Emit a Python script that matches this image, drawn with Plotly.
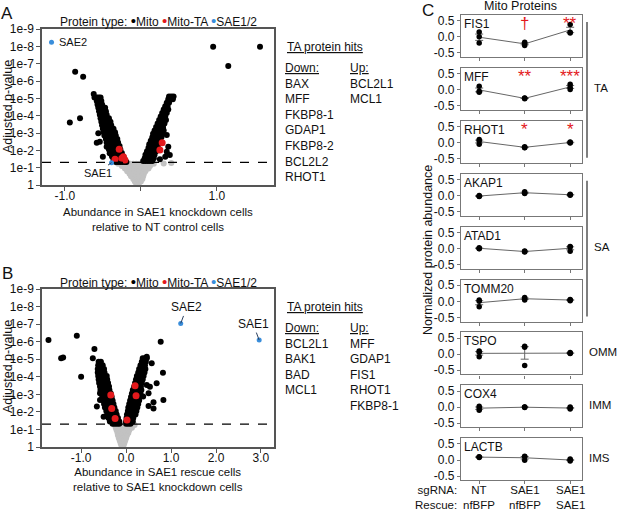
import plotly.graph_objects as go
import statistics

W, H = 617, 510
FONT = "Arial, Liberation Sans, sans-serif"

# ---------------- panel A data (x = log2 ratio, y = -log10 adjusted p) ----------------
# not significant (gray), rows of equal y
A_gray_x = [-0.06, -0.03,
            -0.08, -0.05, -0.02, 0.0,
            -0.10, -0.07, -0.04, -0.01, 0.02,
            -0.13, -0.10, -0.07, -0.04, 0.0, 0.03,
            -0.15, -0.12, -0.09, -0.05, -0.02, 0.01, 0.04,
            -0.18, -0.15, -0.11, -0.07, -0.03, 0.0, 0.03, 0.06,
            -0.21, -0.18, -0.14, -0.10, -0.06, -0.02, 0.02, 0.04, 0.07, 0.10,
            -0.25, -0.21, -0.17, -0.13, -0.09, -0.05, -0.01, 0.03, 0.06, 0.09, 0.12,
            -0.30, -0.26, -0.22, -0.18, -0.14, -0.10, -0.06, -0.02, 0.02, 0.07, 0.10, 0.13, 0.17,
            0.40, 0.30]
A_gray_y = [0.05, 0.05,
            0.2, 0.2, 0.2, 0.2,
            0.35, 0.35, 0.35, 0.35, 0.35,
            0.5, 0.5, 0.5, 0.5, 0.5, 0.5,
            0.65, 0.65, 0.65, 0.65, 0.65, 0.65, 0.65,
            0.8, 0.8, 0.8, 0.8, 0.8, 0.8, 0.8, 0.8,
            0.95, 0.95, 0.95, 0.95, 0.95, 0.95, 0.95, 0.95, 0.95, 0.95,
            1.1, 1.1, 1.1, 1.1, 1.1, 1.1, 1.1, 1.1, 1.1, 1.1, 1.1,
            1.22, 1.22, 1.22, 1.22, 1.22, 1.22, 1.22, 1.22, 1.22, 1.22, 1.22, 1.22, 1.22,
            1.27, 1.24]

# significant mitochondrial proteins (black): outliers, left arm, right arm
A_mito_x = [0.95, 1.566, 1.149, -0.864, -0.759, -0.934, -0.80, -0.56, -0.58, -0.47,
            -0.54, -0.45, -0.50, -0.41, 0.34, 0.36, 0.34, 0.38, 0.25, 0.32, 0.29,
            -0.62,
            -0.61, -0.58, -0.555, -0.53,
            -0.58, -0.55, -0.52,
            -0.57, -0.54, -0.51,
            -0.56, -0.53, -0.50, -0.47,
            -0.55, -0.52, -0.49, -0.46,
            -0.54, -0.51, -0.48, -0.45,
            -0.53, -0.50, -0.47, -0.44, -0.42,
            -0.52, -0.49, -0.46, -0.43, -0.40,
            -0.51, -0.48, -0.45, -0.42, -0.39,
            -0.50, -0.47, -0.44, -0.41, -0.38, -0.36,
            -0.49, -0.46, -0.43, -0.40, -0.37, -0.34,
            -0.48, -0.45, -0.42, -0.39, -0.36, -0.33,
            -0.46, -0.43, -0.40, -0.37, -0.34, -0.31,
            -0.45, -0.42, -0.39, -0.36, -0.33, -0.30,
            -0.43, -0.40, -0.37, -0.34, -0.31, -0.28,
            -0.42, -0.39, -0.36, -0.33, -0.30, -0.27,
            -0.40, -0.37, -0.34, -0.31, -0.28, -0.25,
            -0.38, -0.35, -0.32, -0.29, -0.26, -0.23,
            -0.36, -0.33, -0.30, -0.27, -0.24, -0.21,
            -0.33, -0.30, -0.27, -0.24, -0.21, -0.19,
            0.37, 0.40, 0.43,
            0.36, 0.39, 0.42,
            0.34, 0.37,
            0.32, 0.35,
            0.30, 0.33, 0.36,
            0.28, 0.31, 0.34,
            0.26, 0.29, 0.32,
            0.24, 0.27, 0.30, 0.33,
            0.22, 0.25, 0.28, 0.31,
            0.20, 0.23, 0.26, 0.29,
            0.18, 0.21, 0.24, 0.27, 0.30,
            0.16, 0.19, 0.22, 0.25, 0.28,
            0.15, 0.18, 0.21, 0.24, 0.27,
            0.13, 0.16, 0.19, 0.22, 0.25,
            0.11, 0.14, 0.17, 0.20, 0.23,
            0.10, 0.13, 0.16, 0.19, 0.22,
            0.08, 0.11, 0.14, 0.17, 0.20,
            0.06, 0.09, 0.12, 0.15, 0.18,
            0.05, 0.08, 0.11, 0.14, 0.17,
            0.03, 0.06, 0.09, 0.12, 0.15]
A_mito_y = [7.98, 7.98, 6.87, 6.54, 6.25, 3.6, 3.85, 2.98, 2.44, 3.36,
            2.5, 2.21, 1.63, 1.83, 2.89, 2.21, 1.92, 1.73, 1.48, 1.63, 3.27,
            5.25,
            5.05, 5.05, 5.05, 5.05,
            4.85, 4.85, 4.85,
            4.65, 4.65, 4.65,
            4.45, 4.45, 4.45, 4.45,
            4.25, 4.25, 4.25, 4.25,
            4.05, 4.05, 4.05, 4.05,
            3.85, 3.85, 3.85, 3.85, 3.85,
            3.65, 3.65, 3.65, 3.65, 3.65,
            3.45, 3.45, 3.45, 3.45, 3.45,
            3.25, 3.25, 3.25, 3.25, 3.25, 3.25,
            3.05, 3.05, 3.05, 3.05, 3.05, 3.05,
            2.85, 2.85, 2.85, 2.85, 2.85, 2.85,
            2.65, 2.65, 2.65, 2.65, 2.65, 2.65,
            2.45, 2.45, 2.45, 2.45, 2.45, 2.45,
            2.25, 2.25, 2.25, 2.25, 2.25, 2.25,
            2.05, 2.05, 2.05, 2.05, 2.05, 2.05,
            1.85, 1.85, 1.85, 1.85, 1.85, 1.85,
            1.65, 1.65, 1.65, 1.65, 1.65, 1.65,
            1.45, 1.45, 1.45, 1.45, 1.45, 1.45,
            1.32, 1.32, 1.32, 1.32, 1.32, 1.32,
            5.1, 5.1, 5.1,
            4.95, 4.95, 4.95,
            4.75, 4.75,
            4.55, 4.55,
            4.35, 4.35, 4.35,
            4.15, 4.15, 4.15,
            3.95, 3.95, 3.95,
            3.75, 3.75, 3.75, 3.75,
            3.55, 3.55, 3.55, 3.55,
            3.35, 3.35, 3.35, 3.35,
            3.15, 3.15, 3.15, 3.15, 3.15,
            2.95, 2.95, 2.95, 2.95, 2.95,
            2.75, 2.75, 2.75, 2.75, 2.75,
            2.55, 2.55, 2.55, 2.55, 2.55,
            2.35, 2.35, 2.35, 2.35, 2.35,
            2.15, 2.15, 2.15, 2.15, 2.15,
            1.95, 1.95, 1.95, 1.95, 1.95,
            1.75, 1.75, 1.75, 1.75, 1.75,
            1.55, 1.55, 1.55, 1.55, 1.55,
            1.38, 1.38, 1.38, 1.38, 1.38]

A_ta_x = [-0.285, -0.23, -0.21, -0.34, -0.25, 0.28, 0.25]
A_ta_y = [2.06, 1.63, 1.44, 1.48, 1.55, 2.44, 2.02]

A_sae_x = [-1.175, -0.386]
A_sae_y = [8.23, 1.29]
A_sae_names = ["SAE2", "SAE1"]

A_hits_down = ["BAX", "MFF", "FKBP8-1", "GDAP1", "FKBP8-2", "BCL2L2", "RHOT1"]
A_hits_up = ["BCL2L1", "MCL1"]

# ---------------- panel B data ----------------
B_gray_x = [-0.10, -0.06,
            -0.12, -0.08, -0.04,
            -0.14, -0.10, -0.06, -0.02,
            -0.16, -0.12, -0.08, -0.04, 0.0,
            -0.18, -0.14, -0.10, -0.06, -0.02, 0.02,
            -0.19, -0.15, -0.11, -0.07, -0.03, 0.01, 0.05,
            -0.21, -0.17, -0.13, -0.09, -0.05, -0.01, 0.03, 0.07,
            -0.23, -0.19, -0.15, -0.11, -0.07, -0.03, 0.01, 0.05, 0.09, 0.13,
            -0.25, -0.21, -0.17, -0.13, -0.09, -0.05, -0.01, 0.02, 0.07, 0.11, 0.15, 0.19]
B_gray_y = [0.05, 0.05,
            0.2, 0.2, 0.2,
            0.35, 0.35, 0.35, 0.35,
            0.5, 0.5, 0.5, 0.5, 0.5,
            0.65, 0.65, 0.65, 0.65, 0.65, 0.65,
            0.8, 0.8, 0.8, 0.8, 0.8, 0.8, 0.8,
            0.95, 0.95, 0.95, 0.95, 0.95, 0.95, 0.95, 0.95,
            1.1, 1.1, 1.1, 1.1, 1.1, 1.1, 1.1, 1.1, 1.1, 1.1,
            1.25, 1.25, 1.25, 1.25, 1.25, 1.25, 1.25, 1.25, 1.25, 1.25, 1.25, 1.25]

B_mito_x = [-1.726, -1.096, -1.444, -1.40, -0.704, -0.74, -1.0, -0.5, -0.58, -0.65, -0.58,
            0.77, 0.57, 0.82, 0.46, 0.46, 0.50, 0.83, 0.61, 0.61, 0.53, 0.68, 0.38, 0.50,
            -0.61, -0.56,
            -0.62, -0.57, -0.52,
            -0.63, -0.58, -0.53, -0.49,
            -0.63, -0.58, -0.53, -0.48,
            -0.62, -0.57, -0.52, -0.47, -0.43,
            -0.61, -0.56, -0.51, -0.46, -0.42,
            -0.60, -0.55, -0.50, -0.45, -0.40,
            -0.58, -0.53, -0.48, -0.43, -0.38,
            -0.57, -0.52, -0.47, -0.42, -0.37,
            -0.55, -0.50, -0.45, -0.40, -0.34,
            -0.53, -0.48, -0.43, -0.38, -0.32,
            -0.51, -0.46, -0.41, -0.36, -0.30,
            -0.49, -0.44, -0.39, -0.34, -0.28,
            -0.47, -0.42, -0.37, -0.32, -0.26,
            -0.44, -0.39, -0.34, -0.29, -0.23,
            -0.42, -0.37, -0.32, -0.27, -0.21,
            -0.39, -0.34, -0.29, -0.24, -0.18,
            -0.36, -0.31, -0.26, -0.21, -0.15,
            -0.30, -0.25, -0.20, -0.15,
            0.37, 0.42, 0.46,
            0.35, 0.40, 0.44,
            0.32, 0.37, 0.42,
            0.29, 0.34, 0.39, 0.43,
            0.27, 0.32, 0.37, 0.41,
            0.24, 0.29, 0.34, 0.39,
            0.22, 0.27, 0.32, 0.37,
            0.20, 0.25, 0.30, 0.35,
            0.18, 0.23, 0.28, 0.33,
            0.15, 0.20, 0.25, 0.30, 0.34,
            0.13, 0.18, 0.23, 0.28, 0.32,
            0.11, 0.16, 0.21, 0.26, 0.30,
            0.09, 0.14, 0.19, 0.24, 0.29,
            0.07, 0.12, 0.17, 0.22, 0.27,
            0.05, 0.10, 0.15, 0.20, 0.25,
            0.04, 0.09, 0.14, 0.19, 0.23,
            0.02, 0.07, 0.12, 0.17, 0.21,
            0.01, 0.06, 0.11, 0.16,
            0.0, 0.05, 0.10, 0.15,
            0.0, 0.05, 0.10]
B_mito_y = [6.09, 6.34, 5.05, 5.1, 5.58, 5.05, 4.0, 1.73, 2.68, 2.3, 3.06,
            6.0, 4.77, 4.23, 5.14, 3.53, 3.06, 2.68, 2.55, 2.2, 3.43, 3.63, 2.87, 2.33,
            4.85, 4.85,
            4.65, 4.65, 4.65,
            4.45, 4.45, 4.45, 4.45,
            4.25, 4.25, 4.25, 4.25,
            4.05, 4.05, 4.05, 4.05, 4.05,
            3.85, 3.85, 3.85, 3.85, 3.85,
            3.65, 3.65, 3.65, 3.65, 3.65,
            3.45, 3.45, 3.45, 3.45, 3.45,
            3.25, 3.25, 3.25, 3.25, 3.25,
            3.05, 3.05, 3.05, 3.05, 3.05,
            2.85, 2.85, 2.85, 2.85, 2.85,
            2.65, 2.65, 2.65, 2.65, 2.65,
            2.45, 2.45, 2.45, 2.45, 2.45,
            2.25, 2.25, 2.25, 2.25, 2.25,
            2.05, 2.05, 2.05, 2.05, 2.05,
            1.85, 1.85, 1.85, 1.85, 1.85,
            1.65, 1.65, 1.65, 1.65, 1.65,
            1.45, 1.45, 1.45, 1.45, 1.45,
            1.32, 1.32, 1.32, 1.32,
            5.05, 5.05, 5.05,
            4.85, 4.85, 4.85,
            4.65, 4.65, 4.65,
            4.45, 4.45, 4.45, 4.45,
            4.25, 4.25, 4.25, 4.25,
            4.05, 4.05, 4.05, 4.05,
            3.85, 3.85, 3.85, 3.85,
            3.65, 3.65, 3.65, 3.65,
            3.45, 3.45, 3.45, 3.45,
            3.25, 3.25, 3.25, 3.25, 3.25,
            3.05, 3.05, 3.05, 3.05, 3.05,
            2.85, 2.85, 2.85, 2.85, 2.85,
            2.65, 2.65, 2.65, 2.65, 2.65,
            2.45, 2.45, 2.45, 2.45, 2.45,
            2.25, 2.25, 2.25, 2.25, 2.25,
            2.05, 2.05, 2.05, 2.05, 2.05,
            1.85, 1.85, 1.85, 1.85, 1.85,
            1.65, 1.65, 1.65, 1.65,
            1.45, 1.45, 1.45, 1.45,
            1.32, 1.32, 1.32]

B_ta_x = [-0.34, -0.32, -0.244, 0.02, 0.2, 0.222]
B_ta_y = [2.96, 2.2, 1.63, 1.54, 3.49, 2.92]

B_sae_x = [1.215, 2.96]
B_sae_y = [7.04, 6.09]
B_sae_names = ["SAE2", "SAE1"]

B_hits_down = ["BCL2L1", "BAK1", "BAD", "MCL1"]
B_hits_up = ["MFF", "GDAP1", "FIS1", "RHOT1", "FKBP8-1"]

# ---------------- panel C data (three replicates per condition) ----------------
C_conditions = ["NT<br>nfBFP", "SAE1<br>nfBFP", "SAE1<br>SAE1"]
C_proteins = ["FIS1", "MFF", "RHOT1", "AKAP1", "ATAD1", "TOMM20", "TSPO", "COX4", "LACTB"]
C_nt = [[0.15, 0.0, -0.19], [0.11, -0.05, -0.08], [0.1, 0.05, -0.05], [0.0, -0.02, -0.03],
        [0.02, 0.0, -0.01], [0.04, 0.0, -0.17], [0.1, 0.06, -0.08], [0.03, -0.03, -0.1],
        [0.1, 0.09, 0.08]]
C_kd = [[-0.17, -0.22, -0.27], [-0.26, -0.27, -0.28], [-0.13, -0.15, -0.16], [0.12, 0.08, 0.06],
        [-0.08, -0.1, -0.11], [0.12, 0.08, 0.04], [0.25, 0.22, -0.35], [0.0, 0.0, -0.01],
        [0.12, 0.1, -0.01]]
C_rescue = [[0.38, 0.14, 0.12], [0.17, 0.08, 0.01], [0.02, 0.0, -0.01], [0.04, 0.02, 0.01],
            [0.06, 0.04, -0.09], [0.06, 0.04, 0.02], [0.05, 0.03, 0.02], [0.0, -0.03, -0.06],
            [0.03, 0.0, -0.03]]
C_sig = [["", "†", "**"], ["", "**", "***"], ["", "*", "*"], ["", "", ""], ["", "", ""],
         ["", "", ""], ["", "", ""], ["", "", ""], ["", "", ""]]
C_groups = [("TA", 0, 2), ("SA", 3, 5), ("OMM", 6, 6), ("IMM", 7, 7), ("IMS", 8, 8)]

GRAY = "#c2c2c2"
RED = "#e3191c"
BLUE = "#3a8edb"


def px(x):
    return x / W


def py(y):
    return 1 - y / H


fig = go.Figure()
annotations = []
shapes = []


def volcano(n, gx, gy, mx, my, tx, ty, sx, sy):
    ax = "x" if n == 1 else "x%d" % n
    ay = "y" if n == 1 else "y%d" % n
    fig.add_trace(go.Scatter(x=gx, y=gy, mode="markers", xaxis=ax, yaxis=ay,
                             marker=dict(color=GRAY, size=6), showlegend=False))
    fig.add_trace(go.Scatter(x=mx, y=my, mode="markers", xaxis=ax, yaxis=ay,
                             marker=dict(color="black", size=6), showlegend=False))
    fig.add_trace(go.Scatter(x=tx, y=ty, mode="markers", xaxis=ax, yaxis=ay,
                             marker=dict(color=RED, size=7), showlegend=False))
    fig.add_trace(go.Scatter(x=sx, y=sy, mode="markers", xaxis=ax, yaxis=ay,
                             marker=dict(color=BLUE, size=5), showlegend=False))
    shapes.append(dict(type="line", xref=ax + " domain", yref=ay, x0=0, x1=1, y0=1.3, y1=1.3,
                       line=dict(color="black", width=1.3, dash="dash")))


volcano(1, A_gray_x, A_gray_y, A_mito_x, A_mito_y, A_ta_x, A_ta_y, A_sae_x, A_sae_y)
volcano(2, B_gray_x, B_gray_y, B_mito_x, B_mito_y, B_ta_x, B_ta_y, B_sae_x, B_sae_y)

ylab = ["1"] + ["1e-%d" % i for i in range(1, 10)]
vaxis_y = dict(range=[0, 9], tickvals=list(range(10)), ticktext=ylab, showline=True, mirror=True,
               linecolor="#555", linewidth=1.5, ticks="outside", ticklen=4, tickcolor="#555",
               showgrid=False, zeroline=False, automargin=False,
               tickfont=dict(size=12, color="#111"))
fig.update_layout(
    xaxis=dict(domain=[px(42), px(274)], anchor="y", range=[-1.30, 1.75],
               tickvals=[-1, 0, 1], ticktext=["-1.0", "", "1.0"]),
    yaxis=dict(domain=[py(185), py(29)], anchor="x", **vaxis_y),
    xaxis2=dict(domain=[px(42), px(274)], anchor="y2", range=[-1.87, 3.29],
                tickvals=[-1, 0, 1, 2, 3], ticktext=["-1.0", "0.0", "1.0", "2.0", "3.0"]),
    yaxis2=dict(domain=[py(447), py(289)], anchor="x2", **vaxis_y),
)
for k in ["xaxis", "xaxis2"]:
    fig.layout[k].update(showline=True, mirror=True, linecolor="#555", linewidth=1.5,
                         ticks="outside", ticklen=4, tickcolor="#555", showgrid=False,
                         zeroline=False, automargin=False, ticklabelstandoff=-5,
                         tickfont=dict(size=12, color="#111"))

# labels for SAE points
annotations += [
    dict(x=A_sae_x[0], y=A_sae_y[0], xref="x", yref="y", text=A_sae_names[0], showarrow=False,
         xanchor="left", xshift=5, font=dict(size=11)),
    dict(x=A_sae_x[1], y=A_sae_y[1], xref="x", yref="y", text=A_sae_names[1], showarrow=True,
         arrowhead=0, arrowwidth=1, ax=-14, ay=10, font=dict(size=11)),
    dict(x=B_sae_x[0], y=B_sae_y[0], xref="x2", yref="y2", text=B_sae_names[0], showarrow=True,
         arrowhead=0, arrowwidth=1, ax=6, ay=-16, font=dict(size=12)),
    dict(x=B_sae_x[1], y=B_sae_y[1], xref="x2", yref="y2", text=B_sae_names[1], showarrow=True,
         arrowhead=0, arrowwidth=1, ax=-6, ay=-16, font=dict(size=12)),
]

dot = "<span style='color:%s;font-size:15px'>•</span>"
legend_txt = ("Protein type: " + dot % "black" + "Mito " + dot % RED + "Mito-TA "
              + dot % BLUE + "SAE1/2")


def panel_text(top, title1, title2, down, up, letter):
    out = []
    out.append(dict(x=px(7), y=py(top - 16), text=letter, font=dict(size=17)))
    out.append(dict(x=px(159), y=py(top - 8), text=legend_txt, font=dict(size=12)))
    out.append(dict(x=px(8), y=py(top + 78), text="Adjusted p-value", textangle=-90,
                    font=dict(size=12.5)))
    out.append(dict(x=px(158), y=py(top + 190), text=title1 + "<br>" + title2,
                    font=dict(size=11.5)))
    out.append(dict(x=px(285), y=py(top + 18), text="<u>TA protein hits</u>", xanchor="left",
                    font=dict(size=12)))
    out.append(dict(x=px(283), y=py(top + 30), text="<u>Down:</u><br>" + "<br>".join(down),
                    xanchor="left", yanchor="top", align="left", font=dict(size=12)))
    out.append(dict(x=px(348), y=py(top + 30), text="<u>Up:</u><br>" + "<br>".join(up),
                    xanchor="left", yanchor="top", align="left", font=dict(size=12)))
    return out


annotations += panel_text(29, "Abundance in SAE1 knockdown cells", "relative to NT control cells",
                          A_hits_down, A_hits_up, "A")
annotations += panel_text(289, "Abundance in SAE1 rescue cells", "relative to SAE1 knockdown cells",
                          B_hits_down, B_hits_up, "B")

# ---------------- panel C ----------------
C_left, C_right = 461, 582
C_tops = [15 + 52.9 * i for i in range(9)]
C_h = 42
for i, name in enumerate(C_proteins):
    n = i + 3
    xa, ya = "x%d" % n, "y%d" % n
    reps = [C_nt[i], C_kd[i], C_rescue[i]]
    means = [statistics.mean(r) for r in reps]
    sems = [statistics.stdev(r) / len(r) ** 0.5 for r in reps]
    fig.add_trace(go.Scatter(x=[0, 1, 2], y=means, mode="lines", xaxis=xa, yaxis=ya,
                             line=dict(color="#666", width=1),
                             error_y=dict(type="data", array=sems, color="#666", width=4,
                                          thickness=1),
                             showlegend=False))
    ptx, pty = [], []
    for g, r in enumerate(reps):
        ptx += [g] * len(r)
        pty += r
    fig.add_trace(go.Scatter(x=ptx, y=pty, mode="markers", xaxis=xa, yaxis=ya,
                             marker=dict(color="black", size=5.5), showlegend=False))
    top = C_tops[i]
    fig.layout["xaxis%d" % n] = dict(
        domain=[px(C_left), px(C_right)], anchor=ya, range=[-0.4, 2.26],
        tickvals=[0, 1, 2], showticklabels=False,
        showline=True, mirror=True, linecolor="#777", linewidth=1.2, ticks="outside",
        ticklen=3, tickcolor="#777", showgrid=False, zeroline=False, automargin=False)
    fig.layout["yaxis%d" % n] = dict(
        domain=[py(top + C_h), py(top)], anchor=xa, range=[-0.63, 0.68],
        tickvals=[-0.5, 0, 0.5], ticktext=["-0.5", "0.0", "0.5"],
        showline=True, mirror=True, linecolor="#777", linewidth=1.2, ticks="outside",
        ticklen=3, tickcolor="#777", showgrid=False, zeroline=False, automargin=False,
        tickfont=dict(size=12, color="#111"))
    annotations.append(dict(x=-0.38, y=0.68, xref=xa, yref=ya, text=name, xanchor="left",
                            yanchor="top", showarrow=False, font=dict(size=12)))
    for g, s in enumerate(C_sig[i]):
        if s:
            annotations.append(dict(x=g, y=0.41, xref=xa, yref=ya, text=s,
                                    showarrow=False, font=dict(size=17, color=RED)))

# condition labels under the last small panel
last_x = "x%d" % (len(C_proteins) + 2)
for g, cond in enumerate(C_conditions):
    annotations.append(dict(x=g, y=py(497), xref=last_x, yref="paper", text=cond,
                            font=dict(size=11.5)))

for label, a, b in C_groups:
    ta = C_tops[a]
    tb = C_tops[b] + C_h
    if a != b:
        shapes.append(dict(type="line", xref="paper", yref="paper", x0=px(587), x1=px(587),
                           y0=py(ta + 7), y1=py(tb - 5), line=dict(color="#555", width=1.5)))
        lx = 592
    else:
        lx = 587
    mid = C_tops[(a + b) // 2] + 20
    annotations.append(dict(x=px(lx), y=py(mid), text=label, xanchor="left",
                            font=dict(size=11.5)))

annotations += [
    dict(x=px(520), y=py(6), text="Mito Proteins", font=dict(size=12.5)),
    dict(x=px(428), y=py(10), text="C", font=dict(size=17)),
    dict(x=px(428), y=py(250), text="Normalized protein abundance", textangle=-90,
         font=dict(size=12.5)),
    dict(x=px(459), y=py(497), text="sgRNA:<br>Rescue:", xanchor="right", align="right",
         font=dict(size=11.5)),
]

for a in annotations:
    a.setdefault("xref", "paper")
    a.setdefault("yref", "paper")
    a.setdefault("showarrow", False)
    a.setdefault("xanchor", "center")
    a.setdefault("yanchor", "middle")

fig.update_layout(width=W, height=H, margin=dict(l=0, r=0, t=0, b=0, autoexpand=False),
                  paper_bgcolor="white", plot_bgcolor="white",
                  font=dict(family=FONT, color="#111", size=12),
                  annotations=annotations, shapes=shapes, showlegend=False)

# page body has a default 8px margin; drop it so the figure fills the window
fig.write_html("out.html", config={"displayModeBar": False},
               post_script="document.body.style.margin='0px';")
